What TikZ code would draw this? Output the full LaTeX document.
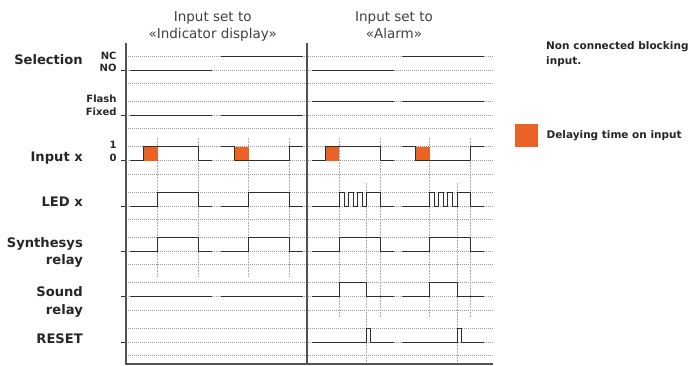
\documentclass[tikz,border=0pt]{standalone}
\usepackage{fontspec}
\setmainfont{DejaVu Sans}
\usepackage{tikz}
\usetikzlibrary{positioning}
\definecolor{delayorange}{RGB}{234,98,36}

\begin{document}
\begin{tikzpicture}[x=1pt,y=-1pt]
			\tikzstyle{Grid}	= [black!40, line width=0.6pt, dash pattern=on 1pt off 1pt]
			\tikzstyle{Sync}	= [black!32, line width=0.7pt, dash pattern=on 1.5pt off 1.5pt]
			\tikzstyle{Axis}	= [black!68, line width=1.1pt]
			\tikzstyle{Sig}		= [black!82, line width=1pt]
			\tikzstyle{Delay}	= [fill=delayorange]
			\tikzstyle{Name}	= [font=\fontsize{13.1}{16}\selectfont\bfseries, text=black!85, inner sep=0pt, anchor=base east]
			\tikzstyle{Level}	= [font=\fontsize{10}{12}\selectfont\bfseries, text=black!85, inner sep=0pt, anchor=base east]
			\tikzstyle{Head}	= [font=\fontsize{13.5}{17}\selectfont, text=black!75, align=center, inner sep=0pt, anchor=north]
			\tikzstyle{Note}	= [font=\fontsize{10.5}{14.5}\selectfont\bfseries, text=black!85, align=left, inner sep=0pt]

			\useasboundingbox (0,0) rectangle (700,365);

			\node (hdind) at (212.7,11.7) [Head] {Input set to\\«Indicator display»};
			\node (hdalm) at (394,11.7) [Head] {Input set to\\«Alarm»};

			\node (lsel) at (83,64) [Name] {Selection};
			\node (lnc) at (116.7,59) [Level] {NC};
			\node (lno) at (116.7,71.7) [Level] {NO};
			\node (lflash) at (116.7,102.3) [Level] {Flash};
			\node (lfixed) at (116.7,115.7) [Level] {Fixed};
			\node (lone) at (116.7,148.3) [Level] {1};
			\node (lzero) at (116.7,161.7) [Level] {0};
			\node (linput) at (83,161.7) [Name] {Input x};
			\node (lled) at (83,206.7) [Name] {LED x};
			\node (lsyn) at (83,247.8) [Name] {Synthesys};
			\node (lsynb) at (83,264.9) [Name] {relay};
			\node (lsnd) at (83,296.7) [Name] {Sound};
			\node (lsndb) at (83,314.5) [Name] {relay};
			\node (lrst) at (83,343.3) [Name] {RESET};

			\node (note) at (546,41.7) [Note, anchor=north west] {Non connected blocking\\input.};
			\node (key) at (515,124) [Delay, anchor=north west, minimum size=23pt, inner sep=0pt] {};
			\node (keytext) [Note, anchor=west, right=8pt of key] {Delaying time on input};

			% dotted levels
			\foreach \g in {56,101.3,146.7,192,237.3,282.7,328} {
				\draw [Grid] (126,\g) -- (493,\g);
				\draw [Grid] (126,\g+14) -- (493,\g+14);
				\draw [Grid] (126,\g+27.3) -- (493,\g+27.3);
				\draw [Sig] (121,\g+14) -- (126,\g+14);
			}

			% time marks
			\foreach \s in {130,221} {
				\draw [Sync] (\s+27.5,138) -- (\s+27.5,277);
				\draw [Sync] (\s+68.5,138) -- (\s+68.5,277);
			}
			\foreach \s in {311.5,402} {
				\draw [Sync] (\s+27.5,138) -- (\s+27.5,318);
				\draw [Sync] (\s+68.5,138) -- (\s+68.5,318);
				\draw [Sync] (\s+55,183) -- (\s+55,364);
			}

			% selection
			\draw [Sig] (130,70) -- (212,70);
			\draw [Sig] (221,56) -- (303,56);
			\draw [Sig] (311.5,70) -- (393.5,70);
			\draw [Sig] (402,56) -- (484,56);
			\draw [Sig] (130,115.3) -- (212,115.3);
			\draw [Sig] (221,115.3) -- (303,115.3);
			\draw [Sig] (311.5,101.3) -- (393.5,101.3);
			\draw [Sig] (402,101.3) -- (484,101.3);

			% input x
			\foreach \s in {130,311.5} {
				\fill [Delay] (\s+13.5,146.7) rectangle (\s+27.5,160.7);
				\draw [Sig] (\s,160.7) -| (\s+13.5,146.7) -| (\s+68.5,160.7) -- (\s+82,160.7);
			}
			\foreach \s in {221,402} {
				\fill [Delay] (\s+13.5,146.7) rectangle (\s+27.5,160.7);
				\draw [Sig] (\s,146.7) -| (\s+13.5,160.7) -| (\s+68.5,146.7) -- (\s+82,146.7);
			}

			% LED x
			\foreach \s in {130,221}
				\draw [Sig] (\s,206) -| (\s+27.5,192) -| (\s+68.5,206) -- (\s+82,206);
			\foreach \s in {311.5,402}
				\draw [Sig] (\s,206) -| (\s+27.5,192) -| (\s+32.5,206) -| (\s+36.5,192) -| (\s+41.5,206)
					-| (\s+45.5,192) -| (\s+50.5,206) -| (\s+55,192) -| (\s+68.5,206) -- (\s+82,206);

			% synthesys relay
			\foreach \s in {130,221,311.5,402}
				\draw [Sig] (\s,251.3) -| (\s+27.5,237.3) -| (\s+68.5,251.3) -- (\s+82,251.3);

			% sound relay
			\foreach \s in {130,221}
				\draw [Sig] (\s,296.7) -- (\s+82,296.7);
			\foreach \s in {311.5,402}
				\draw [Sig] (\s,296.7) -| (\s+27.5,282.7) -| (\s+55,296.7) -- (\s+82,296.7);

			% reset
			\foreach \s in {311.5,402}
				\draw [Sig] (\s,342) -| (\s+55,328) -| (\s+59,342) -- (\s+82,342);

			\draw [Axis] (126,43) -- (126,364) -- (493,364);
			\draw [Axis] (307,43) -- (307,364);
		\end{tikzpicture}
\end{document}
